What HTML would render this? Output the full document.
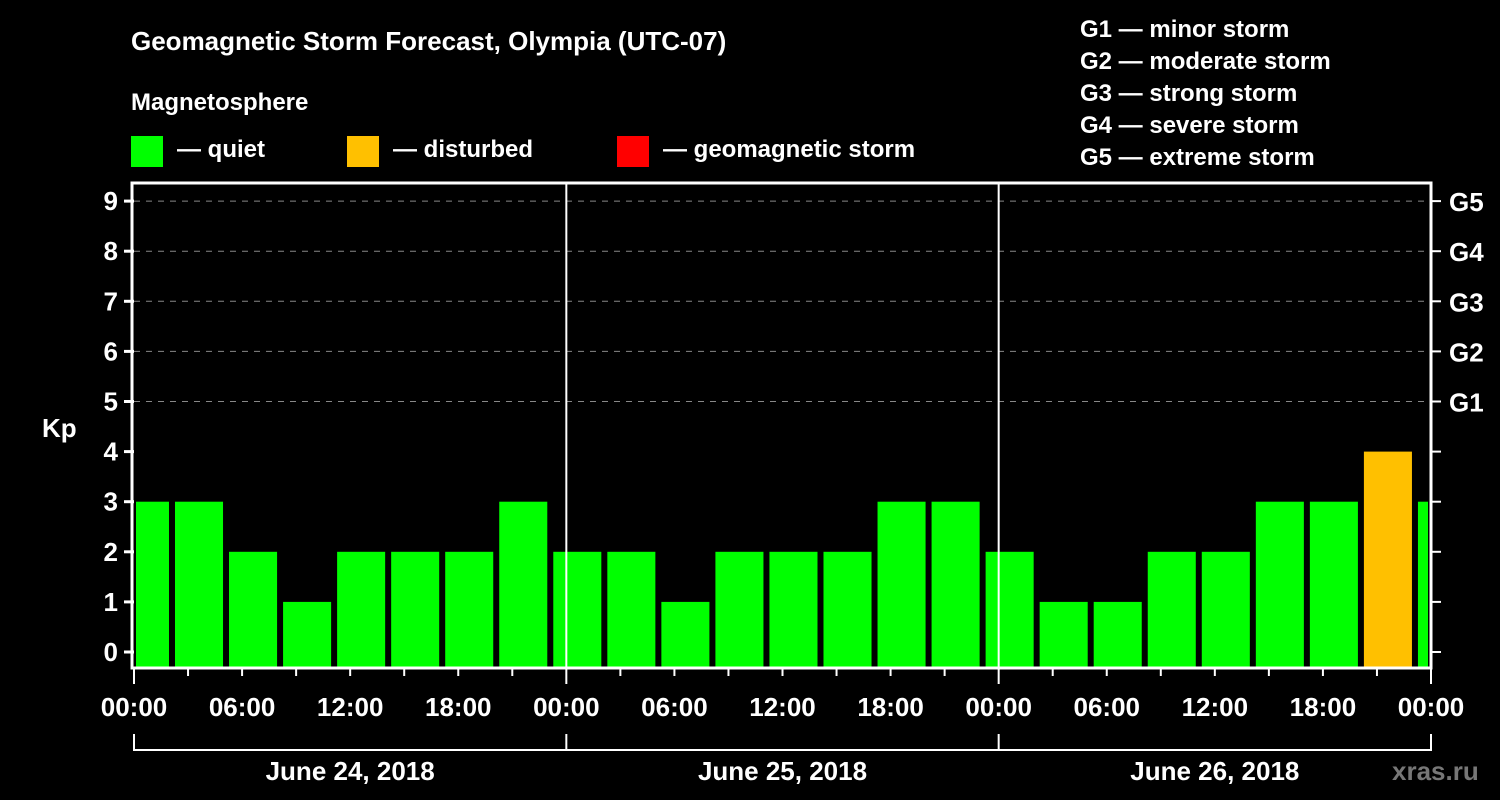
<!DOCTYPE html>
<html><head><meta charset="utf-8"><style>
html,body{margin:0;padding:0;background:#000;}
svg{display:block;font-family:"Liberation Sans",Arial,sans-serif;font-weight:bold;}
</style></head><body>
<svg id="chart" width="1500" height="800" viewBox="0 0 1500 800">
<rect width="1500" height="800" fill="#000"/>
<text x="131" y="50" fill="#fff" font-size="26">Geomagnetic Storm Forecast, Olympia (UTC-07)</text>
<text x="131" y="110" fill="#fff" font-size="24">Magnetosphere</text>
<g><rect x="131" y="136" width="32" height="31" fill="#00ff00"/><text x="177" y="157" fill="#fff" font-size="24">— quiet</text></g>
<g><rect x="347" y="136" width="32" height="31" fill="#ffc000"/><text x="393" y="157" fill="#fff" font-size="24">— disturbed</text></g>
<g><rect x="617" y="136" width="32" height="31" fill="#ff0000"/><text x="663" y="157" fill="#fff" font-size="24">— geomagnetic storm</text></g>
<g fill="#fff" font-size="24">
<text x="1080" y="37">G1 — minor storm</text>
<text x="1080" y="69">G2 — moderate storm</text>
<text x="1080" y="101">G3 — strong storm</text>
<text x="1080" y="133">G4 — severe storm</text>
<text x="1080" y="165">G5 — extreme storm</text>
</g>
<g id="grid"></g><g id="bars"></g><g id="axes"></g>
<text x="42" y="437" fill="#fff" font-size="26">Kp</text>
<text x="1392" y="780" fill="#777" font-size="26">xras.ru</text>
</svg>
<script>
const kpValues=[3,3,2,1,2,2,2,3,2,2,1,2,2,2,3,3,2,1,1,2,2,3,3,4,3];
const dayLabels=["June 24, 2018","June 25, 2018","June 26, 2018"];
const yTicks=[0,1,2,3,4,5,6,7,8,9];
const gLabels=["G1","G2","G3","G4","G5"];
const hourLabels=["00:00","06:00","12:00","18:00"];
const NS="http://www.w3.org/2000/svg";
const L=134,R=1431,T=183,B=668;
function x(h){return L+(R-L)*h/72;}
function y(v){return 652-50.1*v;}
function mk(tag,attrs,parent){const e=document.createElementNS(NS,tag);for(const k in attrs)e.setAttribute(k,attrs[k]);parent.appendChild(e);return e;}
const grid=document.getElementById('grid'),bars=document.getElementById('bars'),axes=document.getElementById('axes');
for(let v=5;v<=9;v++){
 const g=mk('line',{x1:L,x2:R,y1:y(v),y2:y(v),stroke:'#888','stroke-dasharray':'6,6','stroke-width':1},grid);
 
 
}
kpValues.forEach((v,i)=>{
 const h0=3*i-0.78;
 let x0=x(h0)+1,x1=x(h0+3)-5;
 x0=Math.max(x0,L+2);x1=Math.min(x1,R-3);
 const col=v>=5?'#ff0000':(v>=4?'#ffc000':'#00ff00');
 const r=mk('rect',{x:x0,y:y(v),width:x1-x0,height:B-y(v),fill:col},bars);
 
 
});
const frame=mk('rect',{x:L-2,y:T,width:R-L+2,height:B-T,fill:'none',stroke:'#fff','stroke-width':3},axes);


for(let d=1;d<3;d++){
 const dl=mk('line',{x1:x(24*d),x2:x(24*d),y1:T,y2:B,stroke:'#fff','stroke-width':2},axes);
 
 
}
yTicks.forEach(v=>{
 const t=mk('line',{x1:L-10,x2:L,y1:y(v),y2:y(v),stroke:'#fff','stroke-width':3},axes);
 
 
 const t2=mk('line',{x1:R,x2:R+10,y1:y(v),y2:y(v),stroke:'#fff','stroke-width':2},axes);
 
 
 const l=mk('text',{x:L-16,y:y(v)+9,fill:'#fff','font-size':26,'text-anchor':'end'},axes);
 l.textContent=v;
 
 
});
gLabels.forEach((g,i)=>{
 const l=mk('text',{x:R+18,y:y(5+i)+10,fill:'#fff','font-size':26},axes);
 l.textContent=g;
 
 
});
for(let h=0;h<=72;h+=3){
 const major=h%24===0;
 const t=mk('line',{x1:x(h),x2:x(h),y1:B,y2:B+(major?16:8),stroke:'#fff','stroke-width':2},axes);
 
 
 if(h%6===0){
  const l=mk('text',{x:x(h),y:716,fill:'#fff','font-size':26,'text-anchor':'middle'},axes);
  l.textContent=hourLabels[(h%24)/6];
  
  
 }
}
const br=mk('path',{d:`M${x(0)} 734V750H${x(72)}V734`,fill:'none',stroke:'#fff','stroke-width':2},axes);


dayLabels.forEach((d,i)=>{
 const tk=mk('line',{x1:x(24*i),x2:x(24*i),y1:734,y2:750,stroke:'#fff','stroke-width':2},axes);
 
 
 const l=mk('text',{x:x(24*i+12),y:780,fill:'#fff','font-size':26,'text-anchor':'middle'},axes);
 l.textContent=d;
 
 
});
</script>
</body></html>
